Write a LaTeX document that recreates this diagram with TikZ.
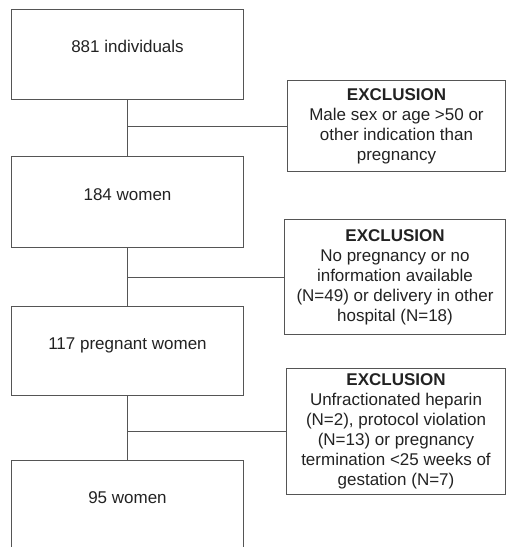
\documentclass[tikz,border=0pt]{standalone}
\usepackage{fontspec}
\setmainfont{Liberation Sans}
\usepackage{color}
\definecolor{mylinegray}{RGB}{85,85,85}
\definecolor{mytextgray}{RGB}{34,34,34}
\usepackage{tikz}
\usetikzlibrary{calc,positioning}

\begin{document}
\begin{tikzpicture}[
  x=1pt, y=-1pt,
  line width=1pt,
  stagebox/.style={
    draw=mylinegray,
    anchor=north west,
    minimum width=232pt,
    minimum height=#1,
    text height=12pt,
    text depth=16pt,
    inner sep=0pt,
    text=mytextgray,
    font=\fontsize{17}{20}\selectfont
    },
  exclbox/.style={
    draw=mylinegray,
    anchor=north west,
    align=center,
    inner sep=0pt,
    text=mytextgray,
    font=\fontsize{17}{20}\selectfont
    },
  link/.style={
    draw=mylinegray
    }
]

\useasboundingbox (0,0) rectangle (507,547);
\clip (0,0) rectangle (507,547);

\node[stagebox=90pt] at (11,9)   (n1) {881 individuals};
\node[stagebox=91pt] at (11,156) (n2) {184 women};
\node[stagebox=89pt] at (11,306) (n3) {117 pregnant women};
\node[stagebox=90pt] at (11,460) (n4) {95 women};

\node[exclbox, minimum width=218pt, minimum height=91pt] at (287,80)
  (ex1)
  {\textbf{EXCLUSION}\\
   Male sex or age >50 or\\
   other indication than\\
   pregnancy};
\node[exclbox, minimum width=221pt, minimum height=115pt] at (284,219)
  (ex2)
  {\textbf{EXCLUSION}\\
   No pregnancy or no\\
   information available\\
   (N=49) or delivery in other\\
   hospital (N=18)};
\node[exclbox, minimum width=219pt, minimum height=126pt] at (286,368)
  (ex3)
  {\textbf{EXCLUSION}\\
   Unfractionated heparin\\
   (N=2), protocol violation\\
   (N=13) or pregnancy\\
   termination <25 weeks of\\
   gestation (N=7)};

\draw[link] (n1.south) -- (n2.north);
\draw[link] (n2.south) -- (n3.north);
\draw[link] (n3.south) -- (n4.north);

\draw[link] (n1.south |- ex1.west) -- (ex1.west);
\draw[link] (n2.south |- ex2.west) -- (ex2.west);
\draw[link] (n3.south |- ex3.west) -- (ex3.west);

\end{tikzpicture}
\end{document}
